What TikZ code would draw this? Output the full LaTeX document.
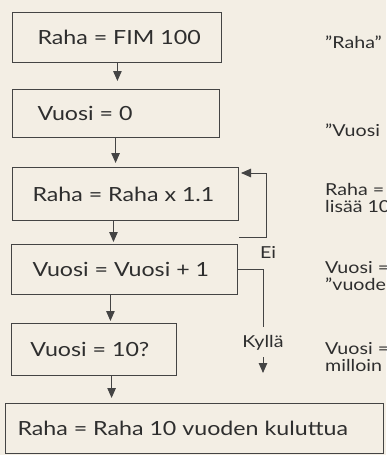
\documentclass[tikz,border=0pt]{standalone}
\usepackage{fontspec}
\setmainfont{Lato}[FakeStretch=1.19]
\usetikzlibrary{arrows.meta,calc}
\definecolor{paper}{HTML}{F3EEE4}
\definecolor{ink}{HTML}{444444}
\definecolor{txt}{HTML}{2E2E2E}
\begin{document}
\begin{tikzpicture}[x=1pt,y=-1pt,
  box/.style={draw=ink,line width=1pt,rectangle,inner ysep=0pt,text=txt,
    font=\fontsize{19.5}{23}\selectfont,anchor=north west},
  line/.style={draw=ink,line width=1pt},
  arr/.style={line,-{Triangle[length=10pt,width=8.5pt]}},
  lbl/.style={text=txt,font=\fontsize{16.5}{16.5}\selectfont,inner sep=0pt},
  note/.style={text=txt,font=\fontsize{16.5}{16.5}\selectfont,inner sep=0pt,anchor=west,align=left}]
\fill[paper] (0,0) rectangle (386,455);
\useasboundingbox (0,0) rectangle (386,455);
\clip (0,0) rectangle (386,455);
% boxes
\node[box,minimum height=50pt,inner xsep=25pt] (b1) at (12,12) {\makebox[159pt][l]{Raha = FIM 100}};
\node[box,minimum height=48pt,inner xsep=25pt] (b2) at (12,89) {\makebox[157pt][l]{Vuosi = 0}};
\node[box,minimum height=53pt,inner xsep=20pt] (b3) at (12,167) {\makebox[186pt][l]{Raha = Raha x 1.1}};
\node[box,minimum height=50pt,inner xsep=21pt] (b4) at (11,244) {\makebox[184pt][l]{Vuosi = Vuosi + 1}};
\node[box,minimum height=52pt,inner xsep=19pt] (b5) at (11,323) {\makebox[127pt][l]{Vuosi = 10?}};
\node[box,minimum height=50pt,inner xsep=12pt] (b6) at (5,403) {\makebox[354pt][l]{Raha = Raha 10 vuoden kuluttua}};
% main arrows
\draw[arr,shorten >=8pt] ($(b1.south west)!0.502!(b1.south east)$) coordinate (s1) -- (s1 |- b2.north);
\draw[arr,shorten >=4pt] ($(b2.south west)!0.498!(b2.south east)$) coordinate (s2) -- (s2 |- b3.north);
\draw[arr,shorten >=2pt] ($(b3.south west)!0.447!(b3.south east)$) coordinate (s3) -- (s3 |- b4.north);
\draw[arr,shorten >=2pt] ($(b4.south west)!0.438!(b4.south east)$) coordinate (s4) -- (s4 |- b5.north);
\draw[arr,shorten >=5pt] ($(b5.south west)!0.606!(b5.south east)$) coordinate (s5) -- (s5 |- b6.north);
% loop (Ei)
\coordinate (eiT) at (266,173);
\draw[arr] ($(b3.south east)+(0,16)$) -| (eiT) -- ($(eiT -| b3.east)+(2,0)$);
\node[lbl] (ei) at (268,252) {Ei};
% exit (Kyllä)
\coordinate (kyT) at (263,327);
\draw[line] (b4.east) -| (kyT);
\node[lbl] (ky) at (263,343) {Kyllä};
\coordinate (kyS) at (263,357);
\coordinate (kyE) at (263,373);
\draw[arr] (kyS) -- (kyE);
% side notes
\node[note] (n1) at (325,42) {”Raha”};
\node[note] (n2) at (325,130) {”Vuosi};
\node[note] (n3) at (325,198) {Raha =\\lisää 10};
\node[note] (n4) at (325,276) {Vuosi =\\”vuode};
\node[note] (n5) at (325,357) {Vuosi =\\milloin};
\end{tikzpicture}
\end{document}
